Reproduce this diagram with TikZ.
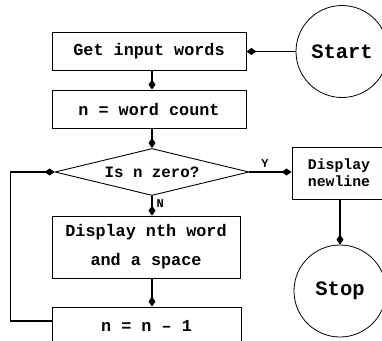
\documentclass[tikz,border=0pt]{standalone}
\usepackage{fontspec}
\setmonofont{Liberation Mono}
\usetikzlibrary{arrows.meta,shapes.geometric}
\begin{document}
\begin{tikzpicture}[x=1pt,y=-1pt,
  every node/.style={inner sep=0pt},
  box/.style={draw, line width=0.9pt, align=center,
    font=\ttfamily\bfseries\fontsize{16.8}{29}\selectfont},
  smallbox/.style={draw, line width=0.9pt, align=center,
    font=\ttfamily\bfseries\fontsize{14.8}{17}\selectfont},
  dia/.style={draw, line width=0.9pt, diamond, shape aspect=4.1,
    minimum width=194pt, minimum height=47pt,
    font=\ttfamily\bfseries\fontsize{15.8}{18}\selectfont},
  term/.style={draw, line width=0.8pt, circle, minimum size=92pt,
    font=\ttfamily\bfseries\fontsize{20.5}{24}\selectfont},
  lbl/.style={font=\ttfamily\bfseries\fontsize{12}{14}\selectfont},
  arr/.style={line width=1.2pt, -{Kite[length=10pt,width=7pt,inset=5pt]}}
]
\useasboundingbox (0,0) rectangle (382,340);
\clip (0,0) rectangle (382,340);
\fill[white] (0,0) rectangle (382,340);

\node[box, minimum width=194pt, minimum height=38pt] (get) at (149,51.5) {Get input words};
\node[box, minimum width=194pt, minimum height=38pt] (cnt) at (149,109) {n = word count};
\node[dia] (dz) at (152,172) {Is n zero?};
\node[box, minimum width=188pt, minimum height=62pt] (disp) at (146,247) {Display nth word\\and a space};
\node[box, minimum width=189pt, minimum height=38pt] (dec) at (146.5,326) {n = n – 1};
\node[term] (start) at (342,51.5) {Start};
\node[smallbox, minimum width=94pt, minimum height=52pt] (nl) at (339,173) {Display\\newline};
\node[term] (stop) at (340,291) {Stop};

\draw[arr] (start) -- (get);
\draw[arr] (get.south -| dz.north) -- (cnt.north -| dz.north);
\draw[arr] (cnt.south -| dz.north) -- (dz.north);
\draw[arr] (dz.south) -- (disp.north -| dz.south)
  node[lbl, pos=0.4, right, xshift=4pt] {N};
\draw[arr] (disp.south -| dz.south) -- (dec.north -| dz.south);
\draw[arr] ([yshift=5pt]dec.west) -- ++(-41,0) |- (dz.west);
\draw[arr] (dz.east) -- (nl.west |- dz.east)
  node[lbl, pos=0.37, above, yshift=4pt] {Y};
\draw[arr] (nl.south -| stop.north) -- (stop.north);
\end{tikzpicture}
\end{document}
